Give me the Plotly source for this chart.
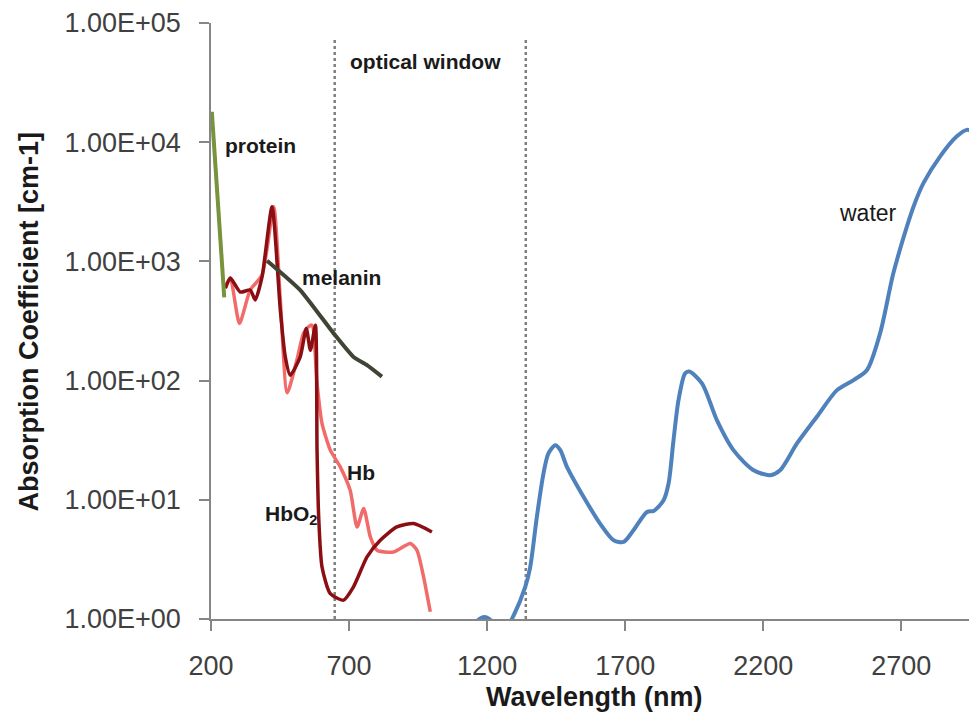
import plotly.graph_objects as go

# ---------------- data ----------------
protein_x = [203, 226, 248]
protein_y = [18000, 2900, 500]

melanin_x = [403, 523, 644, 716, 765, 819]
melanin_y = [1014, 575, 249, 158, 135, 108]

hb_x = [252, 270, 303, 342, 385, 427, 451, 476, 511, 535, 553, 566, 584, 602, 632, 668,
        704, 729, 753, 777, 801, 861, 922, 946, 970, 994]
hb_y = [598, 726, 302, 575, 769, 2878, 475, 79, 149, 249, 283, 292, 94.7, 43.7, 26.1, 18.9,
        12.0, 5.92, 8.45, 4.88, 3.77, 3.65, 4.30, 3.77, 2.25, 1.15]

hbo2_x = [252, 270, 306, 342, 360, 385, 421, 451, 469, 487, 523, 545, 560, 578, 584, 590,
          602, 632, 680, 716, 765, 813, 873, 934, 1000]
hbo2_y = [598, 726, 553, 575, 475, 744, 2878, 391, 158, 111, 158, 274, 180, 292, 26.1, 7.18,
          2.73, 1.63, 1.44, 1.86, 3.32, 4.58, 5.92, 6.32, 5.37]

water_x = [1140, 1165, 1190, 1215, 1240, 1270, 1296, 1338, 1356, 1380, 1404, 1422, 1447, 1465,
           1489, 1549, 1609, 1658, 1694, 1730, 1779, 1803, 1839, 1857, 1875, 1893, 1917, 1932,
           1978, 2032, 2092, 2165, 2225, 2261, 2322, 2394, 2467, 2527, 2575, 2623, 2671, 2720,
           2744, 2780, 2840, 2900, 2937, 2973]
water_y = [0.8, 0.97, 1.04, 0.97, 0.8, 0.85, 1.07, 1.86, 2.73, 7.18, 16.6, 24.5, 28.7, 26.1,
           18.9, 10.6, 6.32, 4.58, 4.43, 5.56, 7.91, 8.07, 9.93, 13.7, 31.7, 68.5, 115, 119,
           94.7, 46.6, 26.1, 17.7, 16.1, 17.7, 29.7, 49.7, 83.2, 101, 122, 249, 794, 1955,
           2878, 4530, 7570, 11140, 12690, 11900]

window_edges = [648, 1340]
window_top = 75000

x_ticks = [200, 700, 1200, 1700, 2200, 2700]
y_ticks = [1, 10, 100, 1000, 10000, 100000]
y_tick_text = ["1.00E+00", "1.00E+01", "1.00E+02", "1.00E+03", "1.00E+04", "1.00E+05"]

labels = ["optical window", "protein", "melanin", "Hb", "HbO<sub>2</sub>", "water"]
label_x = [697, 244, 523, 686, 389, 2467]
label_logy = [4.674, 3.969, 2.869, 1.232, 0.87, 3.407]
label_bold = [True, True, True, True, True, False]

# ---------------- figure ----------------
fig = go.Figure()

for xe in window_edges:
    fig.add_trace(go.Scatter(x=[xe, xe], y=[1, window_top], mode="lines",
                             line=dict(color="#7f7f7f", width=2.5, dash="dot"),
                             hoverinfo="skip", showlegend=False))

fig.add_trace(go.Scatter(x=water_x, y=water_y, mode="lines", name="water",
                         line=dict(color="#4f81bd", width=4, shape="spline", smoothing=0.8)))
fig.add_trace(go.Scatter(x=hb_x, y=hb_y, mode="lines", name="Hb",
                         line=dict(color="#f26b6b", width=3.5, shape="spline", smoothing=0.6)))
fig.add_trace(go.Scatter(x=hbo2_x, y=hbo2_y, mode="lines", name="HbO2",
                         line=dict(color="#8b0f12", width=3.5, shape="spline", smoothing=0.6)))
fig.add_trace(go.Scatter(x=melanin_x, y=melanin_y, mode="lines", name="melanin",
                         line=dict(color="#3f4535", width=4, shape="spline", smoothing=0.5)))
fig.add_trace(go.Scatter(x=protein_x, y=protein_y, mode="lines", name="protein",
                         line=dict(color="#77933c", width=4)))

for t, lx, ly, b in zip(labels, label_x, label_logy, label_bold):
    fig.add_annotation(x=lx, y=ly, xref="x", yref="y", text=("<b>%s</b>" % t) if b else t,
                       showarrow=False, xanchor="left", yanchor="middle",
                       font=dict(family="Liberation Sans", size=21 if b else 23, color="#1a1a1a"))

fig.add_annotation(x=0.5, y=-0.131, xref="paper", yref="paper", text="<b>Wavelength (nm)</b>",
                   showarrow=False, xanchor="center", yanchor="middle",
                   font=dict(family="Liberation Sans", size=27, color="#1a1a1a"))
fig.add_annotation(x=-0.237, y=0.5, xref="paper", yref="paper",
                   text="<b>Absorption Coefficient [cm-1]</b>", textangle=-90,
                   showarrow=False, xanchor="center", yanchor="middle",
                   font=dict(family="Liberation Sans", size=27, color="#1a1a1a"))

axis_common = dict(showline=True, linecolor="#868686", linewidth=1.5, ticks="outside",
                   ticklen=10, tickwidth=1.5, tickcolor="#868686", showgrid=False,
                   zeroline=False, automargin=False,
                   tickfont=dict(family="Liberation Sans", size=27, color="#404040"))

fig.update_xaxes(range=[200, 2974], tickvals=x_ticks, ticklabelstandoff=12, **axis_common)
fig.update_yaxes(type="log", range=[0, 5], tickvals=y_ticks, ticktext=y_tick_text,
                 ticklabelstandoff=13, **axis_common)

# page body has an 8px default margin, so the figure is sized/offset to compensate
fig.update_layout(width=969, height=715, autosize=False,
                  margin=dict(l=203, r=0, t=15, b=104),
                  paper_bgcolor="white", plot_bgcolor="white", showlegend=False)

fig.write_html("out.html")
